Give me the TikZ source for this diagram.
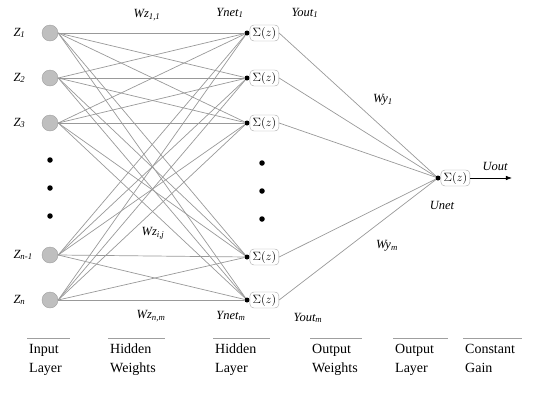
\documentclass[tikz,border=0pt]{standalone}
\usepackage{fontspec}
\setmainfont{Liberation Serif}
\usetikzlibrary{arrows.meta}

\tikzset{
  inp/.style={circle, fill=gray!50, draw=gray!75, minimum size=16pt, inner sep=0pt},
  sumdot/.style={circle, fill=black, minimum size=5pt, inner sep=0pt},
  actbox/.style={draw=gray!70, rounded corners=4pt, minimum width=29pt, minimum height=16pt, inner sep=0pt, font=\fontsize{12}{13}\selectfont},
  wire/.style={draw=gray!80, line width=0.7pt},
  lbl/.style={font=\fontsize{12.5}{13}\selectfont\itshape},
  captext/.style={font=\fontsize{14}{16}\selectfont, align=left},
  bigdot/.style={circle, fill=black, minimum size=5.5pt, inner sep=0pt}
}

\begin{document}
\begin{tikzpicture}[x=1pt, y=-1pt, >=Latex]
    \useasboundingbox (0,0) rectangle (560,394);

    % input layer
    \foreach \n/\y/\t in {1/33/1, 2/78/2, 3/123/3, 4/255/{n-1}, 5/300/n} {
        \node[inp] (i\n) at (50,\y) {};
        \node[lbl, anchor=west] (zl\n) at (10,\y) {Z\textsubscript{\t}};
    }
    \foreach \y in {160,188,216} \node[bigdot] at (50,\y) {};

    % hidden layer
    \foreach \n/\y in {1/33, 2/78, 3/123, 4/257, 5/300} {
        \node[sumdot] (h\n) at (247,\y) {};
        \node[actbox, anchor=west] (s\n) at (h\n.east) {$\Sigma(z)$};
    }
    \foreach \y in {163,191,219} \node[bigdot] at (262,\y) {};

    % output layer
    \node[sumdot] (o) at (438,178) {};
    \node[actbox, anchor=west] (so) at (o.east) {$\Sigma(z)$};
    \coordinate (uend) at (512,178);

    % connections input -> hidden
    \foreach \a in {1,...,5}
        \foreach \b in {1,...,5}
            \draw[wire] (i\a.east) -- (h\b);

    % connections hidden -> output
    \foreach \b in {1,...,5}
        \draw[wire] (s\b.east) -- (o);
    \draw[->, line width=0.7pt] (so.east) -- (uend);

    % labels
    \node[lbl] at (147,15) {Wz\textsubscript{1,1}};
    \node[lbl] at (153,233) {Wz\textsubscript{i,j}};
    \node[lbl] at (151,316) {Wz\textsubscript{n,m}};
    \node[lbl] at (230,13) {Ynet\textsubscript{1}};
    \node[lbl] at (305,13) {Yout\textsubscript{1}};
    \node[lbl] at (231,316) {Ynet\textsubscript{m}};
    \node[lbl] at (308,318) {Yout\textsubscript{m}};
    \node[lbl] at (383,100) {Wy\textsubscript{1}};
    \node[lbl] at (387,246) {Wy\textsubscript{m}};
    \node[lbl] at (495,166) {Uout};
    \node[lbl] at (442,205) {Unet};

    % captions
    \foreach \xa/\xb/\t in {27/70/{Input\\[3pt]Layer}, 108/165/{Hidden\\[3pt]Weights},
                            213/270/{Hidden\\[3pt]Layer}, 310/362/{Output\\[3pt]Weights},
                            393/448/{Output\\[3pt]Layer}, 463/522/{Constant\\[3pt]Gain}} {
        \draw[gray!75, line width=0.7pt] (\xa,338) -- (\xb,338);
        \node[captext, anchor=north west, inner sep=0pt] at (\xa+2,344) {\t};
    }
\end{tikzpicture}
\end{document}
